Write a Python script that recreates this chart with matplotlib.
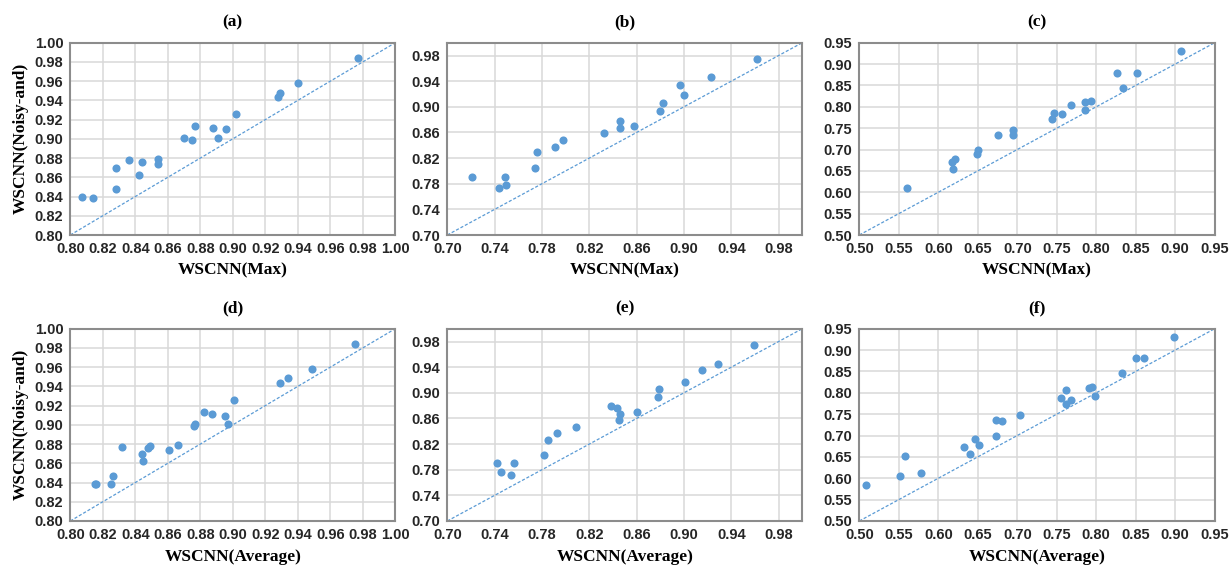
import numpy as np
import matplotlib.pyplot as plt

# values: x = WSCNN(Max / Average), y = WSCNN(Noisy-and)
a_x = [0.807, 0.814, 0.828, 0.828, 0.836, 0.842, 0.844, 0.854, 0.854, 0.870,
       0.875, 0.877, 0.888, 0.891, 0.896, 0.902, 0.928, 0.929, 0.940, 0.977]
a_y = [0.840, 0.838, 0.848, 0.870, 0.878, 0.862, 0.876, 0.879, 0.874, 0.901,
       0.899, 0.913, 0.911, 0.901, 0.910, 0.926, 0.944, 0.948, 0.958, 0.984]

b_x = [0.721, 0.744, 0.749, 0.750, 0.774, 0.776, 0.791, 0.798, 0.832, 0.846,
       0.846, 0.858, 0.880, 0.882, 0.897, 0.900, 0.923, 0.962]
b_y = [0.791, 0.773, 0.791, 0.778, 0.804, 0.829, 0.838, 0.848, 0.859, 0.878,
       0.867, 0.870, 0.894, 0.906, 0.934, 0.918, 0.946, 0.974]

c_x = [0.560, 0.617, 0.621, 0.619, 0.649, 0.650, 0.676, 0.695, 0.695, 0.744,
       0.746, 0.757, 0.768, 0.786, 0.794, 0.786, 0.826, 0.834, 0.851, 0.907]
c_y = [0.611, 0.671, 0.677, 0.655, 0.690, 0.700, 0.735, 0.746, 0.735, 0.772,
       0.786, 0.783, 0.805, 0.812, 0.813, 0.792, 0.880, 0.845, 0.880, 0.930]

d_x = [0.815, 0.816, 0.826, 0.825, 0.832, 0.844, 0.845, 0.848, 0.849, 0.861, 0.866,
       0.876, 0.877, 0.882, 0.887, 0.895, 0.897, 0.901, 0.929, 0.934, 0.949, 0.975]
d_y = [0.839, 0.838, 0.847, 0.838, 0.877, 0.870, 0.862, 0.876, 0.878, 0.874, 0.879,
       0.899, 0.901, 0.913, 0.911, 0.909, 0.901, 0.926, 0.944, 0.949, 0.958, 0.984]

e_x = [0.742, 0.745, 0.754, 0.756, 0.782, 0.785, 0.793, 0.809, 0.838, 0.843,
       0.846, 0.845, 0.860, 0.878, 0.879, 0.901, 0.915, 0.929, 0.959]
e_y = [0.791, 0.776, 0.772, 0.791, 0.803, 0.827, 0.837, 0.847, 0.879, 0.877,
       0.867, 0.858, 0.870, 0.894, 0.906, 0.917, 0.935, 0.945, 0.975]

f_x = [0.508, 0.551, 0.558, 0.578, 0.632, 0.640, 0.646, 0.652, 0.673, 0.673, 0.681, 0.704,
       0.755, 0.762, 0.762, 0.768, 0.791, 0.795, 0.799, 0.833, 0.850, 0.860, 0.898]
f_y = [0.584, 0.605, 0.653, 0.613, 0.672, 0.656, 0.691, 0.678, 0.737, 0.700, 0.735, 0.747,
       0.787, 0.806, 0.773, 0.783, 0.812, 0.813, 0.793, 0.846, 0.881, 0.881, 0.930]

panels = ['(a)', '(b)', '(c)', '(d)', '(e)', '(f)']
x_labels = ['WSCNN(Max)'] * 3 + ['WSCNN(Average)'] * 3
y_label = 'WSCNN(Noisy-and)'

blue = '#5B9BD5'
W, H = 1229, 568

fig = plt.figure(figsize=(W / 100, H / 100), dpi=100)

# pixel boxes (left, top, right, bottom)
boxes = [(70.3, 42.7, 395.3, 235), (447.3, 42.7, 802.3, 235), (859.3, 42.7, 1214.7, 235),
         (70.3, 328.7, 395.3, 521), (447.3, 328.7, 802.3, 521), (859.3, 328.7, 1214.7, 521)]

# (lo, hi, step) per column
ranges = [(0.80, 1.00, 0.02), (0.70, 1.00, 0.04), (0.50, 0.95, 0.05)]

data = [(a_x, a_y), (b_x, b_y), (c_x, c_y), (d_x, d_y), (e_x, e_y), (f_x, f_y)]

for i, (xs, ys) in enumerate(data):
    l, t, r, b = boxes[i]
    ax = fig.add_axes([l / W, 1 - b / H, (r - l) / W, (b - t) / H])
    lo, hi, step = ranges[i % 3]
    ticks = np.arange(lo, hi + 1e-9, step)
    if i % 3 == 1:
        ticks = ticks[ticks < 0.999]
    ax.set_xlim(lo, hi)
    ax.set_ylim(lo, hi)
    ax.set_xticks(ticks)
    ax.set_yticks(ticks)
    ax.set_xticklabels(['%.2f' % v for v in ticks])
    ax.set_yticklabels(['%.2f' % v for v in ticks])
    ax.grid(True, color='#D9D9D9', linewidth=1.1)
    ax.set_axisbelow(True)
    ax.tick_params(length=0, pad=5, labelsize=10.5)
    for lab in ax.get_xticklabels() + ax.get_yticklabels():
        lab.set_fontfamily('Liberation Sans')
        lab.set_fontweight('bold')
        lab.set_color('#262626')
    for sp in ax.spines.values():
        sp.set_color('#8C8C8C')
        sp.set_linewidth(1.5)

    ax.plot([lo, hi], [lo, hi], color=blue, linewidth=0.9, linestyle=(0, (2.5, 1.5)))
    ax.scatter(xs, ys, s=34, color=blue, zorder=3, linewidths=0)

    ax.set_title(panels[i], fontfamily='Liberation Serif', fontweight='bold',
                 fontsize=12.5, pad=12)
    ax.set_xlabel(x_labels[i], fontfamily='Liberation Serif', fontweight='bold',
                  fontsize=12.5, labelpad=5)
    if i % 3 == 0:
        ax.set_ylabel(y_label, fontfamily='Liberation Serif', fontweight='bold',
                      fontsize=12.5, labelpad=4)

fig.savefig('out.png', dpi=100)
